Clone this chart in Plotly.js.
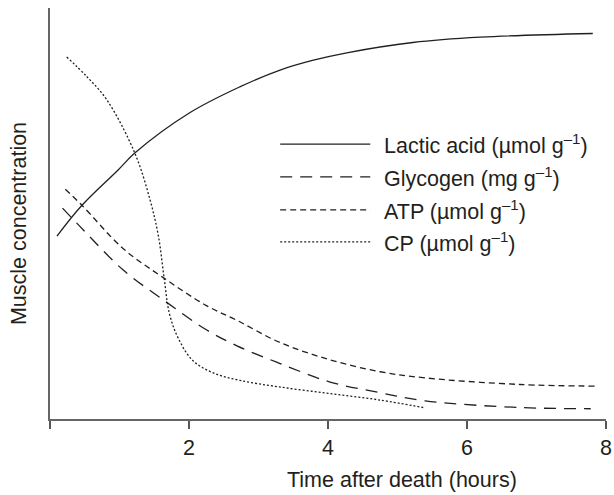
<!DOCTYPE html>
<html>
<head>
<meta charset="utf-8">
<script src="https://cdn.plot.ly/plotly-3.0.1.min.js"></script>
<style>html,body{margin:0;padding:0;background:#fff;}#chart{width:614px;height:495px;}</style>
</head>
<body>
<div id="chart"></div>
<script>
// Time after death (hours)
const lacticX = [0.1, 0.46, 0.98, 1.22, 2.01, 2.73, 3.31, 3.79, 4.27, 5.22, 6.19, 7.81];
const lacticY = [44.5, 52, 60.6, 64.7, 74.5, 80.8, 84.9, 87.3, 89.1, 91.6, 92.9, 93.8];

const glycogenX = [0.18, 0.48, 1.05, 1.67, 2.25, 2.69, 3.31, 4.03, 4.75, 5.4, 6.76, 7.78];
const glycogenY = [51.3, 46, 36.3, 28.5, 21.7, 17.8, 13.5, 9.0, 6.4, 4.4, 2.8, 2.5];

const atpX = [0.22, 0.46, 1.05, 1.63, 2.25, 2.69, 3.31, 4.03, 4.75, 5.4, 6.76, 7.87];
const atpY = [55.9, 52, 41.5, 34.4, 27.6, 24.0, 18.6, 14.4, 11.5, 10.0, 8.4, 8.0];

const cpX = [0.24, 0.53, 0.82, 1.22, 1.44, 1.56, 1.64, 1.72, 1.85, 2.05, 2.35, 2.73, 3.3, 4.03, 4.75, 5.37];
const cpY = [88.1, 83.3, 77.6, 64.7, 53.3, 44.5, 34.6, 25.5, 19.5, 14.3, 11.2, 9.4, 7.8, 6.2, 4.6, 2.8];

const seriesNames = ['Lactic acid (\u00b5mol g<sup>\u20131</sup>)', 'Glycogen (mg g<sup>\u20131</sup>)', 'ATP (\u00b5mol g<sup>\u20131</sup>)', 'CP (\u00b5mol g<sup>\u20131</sup>)'];
const dashes = ['solid', '12px,8px', '6px,4px', '2px,2px'];

const tickVals = [0, 2, 4, 6, 8];
const tickText = ['', '2', '4', '6', '8'];

const xTitle = 'Time after death (hours)';
const yTitle = 'Muscle concentration';

const INK = '#231f20';
const FONT = 'Liberation Sans, Arial, Helvetica, sans-serif';
const FS = 21.5;

const xs = [lacticX, glycogenX, atpX, cpX];
const ys = [lacticY, glycogenY, atpY, cpY];

const traces = xs.map((x, i) => ({
  x: x, y: ys[i], type: 'scatter', mode: 'lines', name: seriesNames[i],
  line: {color: INK, width: 1.3, dash: dashes[i], shape: 'spline', smoothing: 1},
  showlegend: false, hoverinfo: 'skip'
}));

// Legend drawn manually (long line samples)
const legX0 = 0.414, legX1 = 0.576, legTextX = 0.597;
const legRows = [0.669, 0.589, 0.509, 0.431];
const shapes = legRows.map((yy, i) => ({
  type: 'line', xref: 'paper', yref: 'paper', x0: legX0, x1: legX1, y0: yy, y1: yy,
  line: {color: INK, width: 1.3, dash: dashes[i]}
}));
const annotations = legRows.map((yy, i) => ({
  xref: 'paper', yref: 'paper', x: legTextX, y: yy, xanchor: 'left', yanchor: 'middle',
  text: seriesNames[i], showarrow: false, font: {family: FONT, size: FS, color: INK}
}));
annotations.push({
  xref: 'paper', yref: 'paper', x: 0.633, y: -0.148, xanchor: 'center', yanchor: 'middle',
  text: xTitle, showarrow: false, font: {family: FONT, size: FS, color: INK}
});
annotations.push({
  xref: 'paper', yref: 'paper', x: -0.057, y: 0.475, xanchor: 'center', yanchor: 'middle',
  textangle: -90, text: yTitle, showarrow: false, font: {family: FONT, size: FS, color: INK}
});

const layout = {
  width: 614, height: 495,
  margin: {l: 50, r: 8, t: 8, b: 76, pad: 0},
  paper_bgcolor: '#ffffff', plot_bgcolor: '#ffffff',
  font: {family: FONT, size: FS, color: INK},
  showlegend: false,
  xaxis: {
    range: [0, 8], tickvals: tickVals, ticktext: tickText,
    ticks: 'outside', ticklen: 8, tickwidth: 1.3, tickcolor: '#555',
    showline: true, linecolor: '#666', linewidth: 2, mirror: false,
    showgrid: false, zeroline: false, fixedrange: true,
    tickfont: {family: FONT, size: FS, color: INK}
  },
  yaxis: {
    range: [0, 100], showticklabels: false, ticks: '',
    showline: true, linecolor: '#666', linewidth: 2,
    showgrid: false, zeroline: false, fixedrange: true
  },
  shapes: shapes,
  annotations: annotations
};

Plotly.newPlot('chart', traces, layout, {displayModeBar: false, staticPlot: true});
</script>
</body>
</html>
